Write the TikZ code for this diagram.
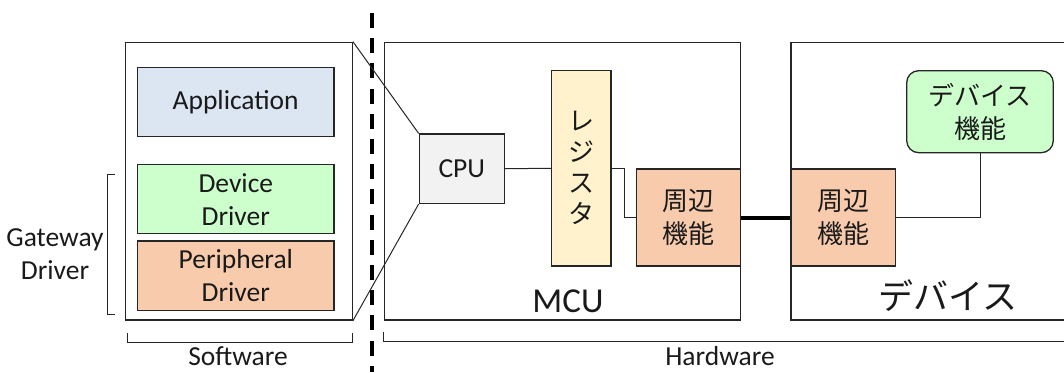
\documentclass[tikz,border=0pt]{standalone}
\usepackage{fontspec}
\setmainfont{Carlito}
\newfontfamily\jpfont{Noto Sans CJK JP}
\usetikzlibrary{calc}
\definecolor{appblue}{HTML}{DCE6F2}
\definecolor{drvgreen}{HTML}{CCFFCC}
\definecolor{peach}{HTML}{F8CBAD}
\definecolor{cpugray}{HTML}{F2F2F2}
\definecolor{regyellow}{HTML}{FFF2CC}
\definecolor{txt}{HTML}{1A1A1A}
\begin{document}
\begin{tikzpicture}[x=1pt,y=-1pt,
  box/.style={draw=black!85,line width=1.3pt,rectangle,inner sep=0pt,align=center,
    font=\fontsize{27.5}{33}\selectfont,text=txt},
  jbox/.style={box,font=\jpfont\fontsize{26}{33}\selectfont},
  thin/.style={draw=black!85,line width=1pt},
  lbl/.style={inner sep=0pt,align=center,text=txt,font=\fontsize{27.5}{33}\selectfont},
  blbl/.style={inner sep=0pt,text=txt,font=\fontsize{27.5}{33}\selectfont,anchor=base}]
\useasboundingbox (0,0) rectangle (1064,372);
% Software side
\node[box,minimum width=226.6pt,minimum height=277.7pt] (sw) at (239,181.2) {};
\node[box,fill=appblue,minimum width=196.7pt,minimum height=69pt] (app) at (235.7,102.2) {Application};
\node[box,fill=drvgreen,minimum width=196.3pt,minimum height=69pt] (dd) at (235.8,199.2) {Device\\Driver};
\node[box,fill=peach,minimum width=196.3pt,minimum height=69.7pt] (pd) at (235.8,275.8) {Peripheral\\Driver};
\node[lbl] (gw) at (55,254) {Gateway\\Driver};
\node[blbl] (swl) at (238,365) {Software};
\draw[thin] (115,174) -- (107.3,174) -- (107.3,314.7) -- (115,314.7);
\draw[thin] (127,333.3) -- (127,342.7) -- (352,342.7) -- (352,333.3);
% dashed separator
\coordinate (dtop) at (371.7,13);
\coordinate (dbot) at (371.7,372);
\draw[line width=4pt,dash pattern=on 15pt off 10.2pt] (dtop) -- (dbot);
% MCU
\node[box,minimum width=356.4pt,minimum height=277.7pt] (mcu) at (562.5,181.2) {};
\node[box,fill=cpugray,minimum width=85pt,minimum height=69.3pt] (cpu) at (461.8,168.7) {CPU};
\node[jbox,fill=regyellow,minimum width=59.3pt,minimum height=195.3pt,font=\jpfont\fontsize{26}{31}\selectfont] (reg) at (581.3,168.3) {レ\\ジ\\ス\\タ};
\node[jbox,fill=peach,minimum width=104pt,minimum height=97pt] (p1) at (688.7,217.5) {周辺\\機能};
\node[lbl,font=\fontsize{35}{40}\selectfont] (mcul) at (568,301) {MCU};
% Device
\coordinate (dva) at (1066,42.3);
\coordinate (dvb) at (791,42.3);
\coordinate (dvc) at (791,320);
\coordinate (dvd) at (1066,320);
\draw[draw=black!85,line width=1.3pt] (dva) -- (dvb) -- (dvc) -- (dvd);
\node[jbox,fill=peach,minimum width=104.3pt,minimum height=97pt] (p2) at (843.2,217.5) {周辺\\機能};
\node[jbox,fill=drvgreen,rounded corners=12pt,minimum width=146.6pt,minimum height=82pt] (df) at (980,111.7) {デバイス\\機能};
\node[lbl,font=\jpfont\fontsize{35}{40}\selectfont] (devl) at (948,296) {デバイス};
% Hardware bracket
\coordinate (hwa) at (383.3,331.7);
\coordinate (hwb) at (383.3,341.7);
\coordinate (hwc) at (1066,341.7);
\draw[thin] (hwa) -- (hwb) -- (hwc);
\node[blbl] (hwl) at (720,365) {Hardware};
% connectors
\draw[thin] (sw.north east) -- (cpu.north west);
\draw[thin] (sw.south east) -- (cpu.south west);
\draw[thin] (cpu.east) -- (reg.west);
\draw[thin] (reg.east) -- ++(13,0) |- (p1.west);
\draw[line width=4pt] (p1.east) -- (p2.west);
\draw[thin] (p2.east) -| (df.south);
\end{tikzpicture}
\end{document}
